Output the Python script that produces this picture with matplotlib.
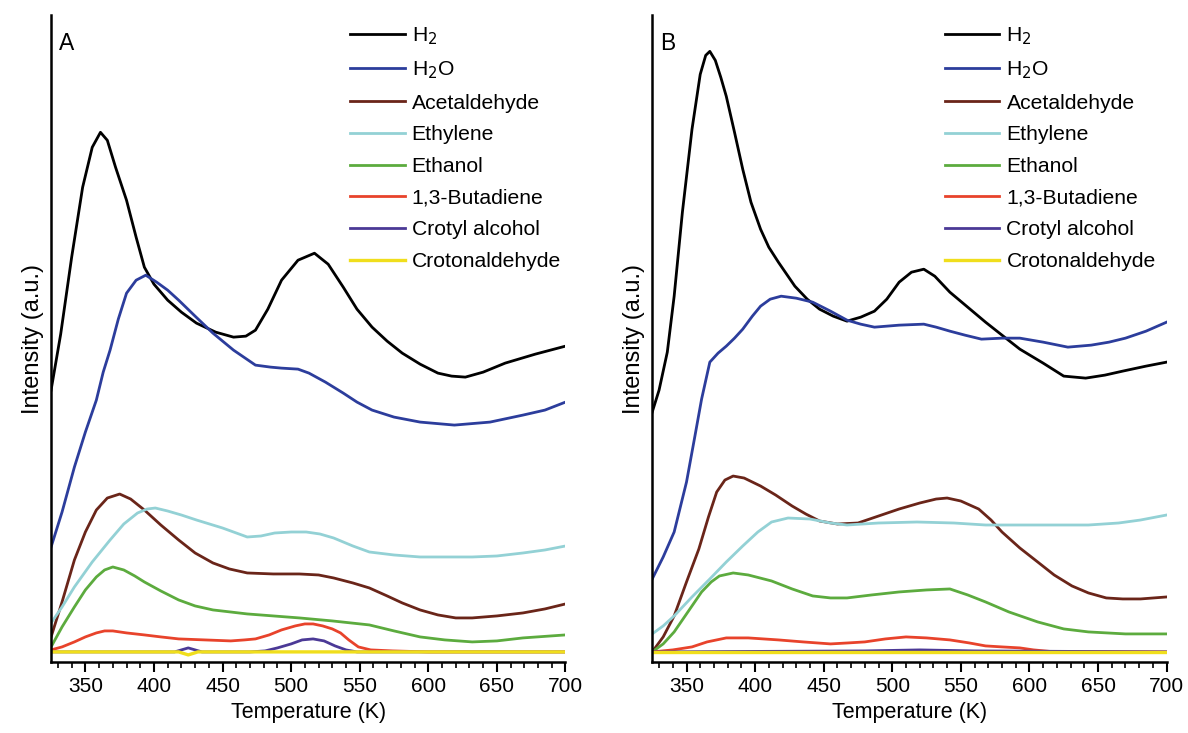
import matplotlib
matplotlib.use("Agg")
import matplotlib.pyplot as plt
from matplotlib.ticker import MultipleLocator

plt.rcParams['font.family'] = ['Liberation Sans', 'DejaVu Sans']

# series names and colours (legend order)
labels = ['H$_2$', 'H$_2$O', 'Acetaldehyde', 'Ethylene', 'Ethanol',
          '1,3-Butadiene', 'Crotyl alcohol', 'Crotonaldehyde']
colors = ['#000000', '#2c3d9c', '#6a2519', '#93d1d5', '#5cab3e',
          '#e8432b', '#4b3996', '#f0de1c']

# ---- panel A (temperature in K, intensity in arbitrary units) ----
a_h2_t = [325, 332, 340, 348, 355, 361, 366, 372, 380, 387, 393, 400, 410, 420, 431, 445, 458, 467, 474, 483,
          493, 505, 517, 527, 538, 548, 559, 570, 581, 594, 607, 617, 627, 640, 656, 678, 700]
a_h2_v = [262, 318, 395, 465, 505, 520, 512, 485, 452, 415, 385, 368, 352, 340, 329, 320, 315, 316, 322, 343,
          372, 392, 399, 388, 365, 343, 325, 311, 299, 288, 279, 276, 275, 280, 289, 298, 306]
a_h2o_t = [325, 333, 342, 350, 358, 363, 368, 374, 380, 387, 394, 402, 410, 418, 430, 443, 458, 474, 485, 493,
           505, 513, 525, 538, 548, 559, 575, 594, 619, 645, 669, 685, 700]
a_h2o_v = [105, 140, 185, 220, 252, 280, 302, 333, 359, 372, 377, 370, 362, 352, 336, 319, 302, 287, 285, 284,
           283, 279, 270, 259, 250, 242, 235, 230, 227, 230, 237, 242, 250]
a_ace_t = [325, 333, 342, 350, 358, 366, 375, 383, 393, 405, 418, 430, 443, 455, 468, 487, 506, 520, 531, 545,
           557, 570, 581, 594, 607, 620, 632, 650, 669, 685, 700]
a_ace_v = [15, 50, 92, 120, 142, 154, 158, 153, 142, 127, 112, 99, 89, 83, 79, 78, 78, 77, 74, 69,
           64, 56, 49, 42, 37, 34, 34, 36, 39, 43, 48]
a_eth_t = [325, 333, 342, 355, 368, 378, 388, 395, 401, 410, 420, 431, 450, 468, 478, 488, 500, 511, 521, 531,
           545, 557, 575, 594, 632, 650, 669, 685, 700]
a_eth_v = [29, 45, 65, 90, 112, 128, 139, 143, 144, 141, 137, 132, 124, 115, 116, 119, 120, 120, 118, 114,
           106, 100, 97, 95, 95, 96, 99, 102, 106]
a_etoh_t = [325, 333, 342, 350, 358, 364, 370, 378, 386, 393, 405, 418, 430, 443, 468, 506, 530, 557, 575, 594,
            612, 632, 650, 669, 700]
a_etoh_v = [5, 25, 45, 62, 75, 82, 85, 82, 76, 70, 61, 52, 46, 42, 38, 34, 31, 27, 21, 15,
            12, 10, 11, 14, 17]
a_but_t = [325, 333, 342, 350, 358, 364, 370, 380, 393, 405, 418, 437, 456, 466, 474, 484, 493, 503, 510, 516,
           523, 530, 536, 542, 549, 558, 574, 600, 700]
a_but_v = [2, 5, 10, 15, 19, 21, 21, 19, 17, 15, 13, 12, 11, 12, 13, 17, 22, 26, 28, 28,
           26, 23, 19, 12, 5, 2, 1, 0, 0]
a_cro_t = [325, 415, 420, 425, 430, 435, 470, 481, 490, 500, 508, 516, 524, 532, 540, 548, 700]
a_cro_v = [0, 0, 2, 4, 2, 0, 0, 1, 4, 8, 12, 13, 11, 6, 2, 0, 0]
a_crot_t = [325, 418, 425, 432, 700]
a_crot_v = [0, 0, -3, 0, 0]

# ---- panel B ----
b_h2_t = [325, 330, 336, 341, 347, 354, 360, 364, 367, 371, 375, 379, 385, 391, 397, 404, 410, 417, 429, 438,
          447, 457, 467, 477, 487, 496, 505, 514, 523, 531, 542, 555, 568, 580, 593, 610, 625, 641, 655, 668,
          685, 700]
b_h2_v = [240, 262, 300, 356, 440, 523, 578, 597, 601, 592, 575, 556, 520, 483, 450, 423, 405, 390, 366, 353,
          343, 336, 331, 335, 341, 353, 370, 380, 383, 376, 360, 345, 330, 317, 303, 289, 276, 274, 277, 281,
          286, 290]
b_h2o_t = [325, 333, 341, 350, 356, 361, 367, 373, 379, 385, 391, 398, 404, 411, 419, 430, 442, 455, 467, 477,
           487, 505, 523, 532, 542, 553, 565, 580, 593, 610, 628, 645, 658, 670, 685, 700]
b_h2o_v = [73, 95, 120, 170, 215, 253, 290, 299, 306, 314, 323, 336, 346, 353, 356, 354, 350, 341, 332, 328,
           325, 327, 328, 325, 321, 317, 313, 314, 314, 310, 305, 307, 310, 314, 321, 330]
b_ace_t = [325, 333, 341, 350, 359, 366, 372, 378, 384, 392, 404, 415, 427, 437, 447, 460, 475, 490, 505, 520,
           532, 540, 550, 563, 572, 580, 593, 606, 618, 631, 643, 656, 668, 681, 700]
b_ace_v = [0, 15, 36, 70, 103, 135, 160, 172, 176, 174, 166, 157, 146, 138, 131, 128, 129, 136, 143, 149,
           153, 154, 151, 143, 132, 120, 104, 90, 77, 66, 59, 54, 53, 53, 55]
b_eth_t = [325, 333, 341, 354, 367, 379, 391, 402, 412, 424, 440, 455, 467, 490, 518, 545, 568, 606, 643, 665,
           681, 700]
b_eth_v = [18, 26, 36, 55, 73, 90, 106, 120, 130, 134, 133, 129, 127, 129, 130, 129, 127, 127, 127, 129,
           132, 137]
b_etoh_t = [325, 333, 341, 350, 361, 368, 374, 384, 395, 412, 427, 442, 455, 467, 485, 505, 525, 542, 555, 568,
            585, 606, 625, 643, 670, 700]
b_etoh_v = [0, 8, 20, 38, 60, 70, 76, 79, 77, 71, 63, 56, 54, 54, 57, 60, 62, 63, 57, 50,
            40, 30, 23, 20, 18, 18]
b_but_t = [325, 340, 354, 365, 379, 395, 417, 435, 455, 468, 480, 495, 510, 525, 542, 556, 568, 580, 593, 603,
           615, 700]
b_but_v = [0, 2, 5, 10, 14, 14, 12, 10, 8, 9, 10, 13, 15, 14, 12, 9, 6, 5, 4, 2,
           0.5, 0]
b_cro_t = [325, 480, 520, 560, 700]
b_cro_v = [0, 1, 2, 1, 0]
b_crot_t = [325, 700]
b_crot_v = [0, 0]

panels = [
    ('A', [(a_h2_t, a_h2_v), (a_h2o_t, a_h2o_v), (a_ace_t, a_ace_v), (a_eth_t, a_eth_v),
           (a_etoh_t, a_etoh_v), (a_but_t, a_but_v), (a_cro_t, a_cro_v), (a_crot_t, a_crot_v)]),
    ('B', [(b_h2_t, b_h2_v), (b_h2o_t, b_h2o_v), (b_ace_t, b_ace_v), (b_eth_t, b_eth_v),
           (b_etoh_t, b_etoh_v), (b_but_t, b_but_v), (b_cro_t, b_cro_v), (b_crot_t, b_crot_v)]),
]

fig = plt.figure(figsize=(11.88, 7.33), dpi=100)
lefts = [0.043, 0.549]
for (letter, series), left in zip(panels, lefts):
    ax = fig.add_axes([left, 0.097, 0.433, 0.882])
    for (t, v), lab, col in zip(series, labels, colors):
        lw = 2.4 if lab == 'Crotonaldehyde' else 2.0
        ax.plot(t, v, color=col, lw=lw, label=lab, solid_joinstyle='round')
    ax.set_xlim(325, 700)
    ax.set_ylim(-10, 637)
    ax.xaxis.set_major_locator(MultipleLocator(50))
    ax.xaxis.set_minor_locator(MultipleLocator(10))
    ax.set_yticks([])
    for s in ['top', 'right']:
        ax.spines[s].set_visible(False)
    for s in ['left', 'bottom']:
        ax.spines[s].set_linewidth(1.8)
    ax.tick_params(axis='x', which='major', length=7, width=1.5, labelsize=15, pad=4)
    ax.tick_params(axis='x', which='minor', length=4, width=1.2)
    ax.set_xlabel('Temperature (K)', fontsize=15.5, labelpad=4)
    ax.set_ylabel('Intensity (a.u.)', fontsize=17, labelpad=5)
    ax.text(0.015, 0.975, letter, transform=ax.transAxes, fontsize=16.5, va='top', ha='left')
    leg_x = 0.564 if letter == 'A' else 0.552
    ax.legend(loc='upper left', bbox_to_anchor=(leg_x, 0.998), frameon=False,
              fontsize=15.2, handlelength=2.6, handletextpad=0.33,
              labelspacing=0.6, borderaxespad=0)

fig.savefig('out.png', dpi=100)
